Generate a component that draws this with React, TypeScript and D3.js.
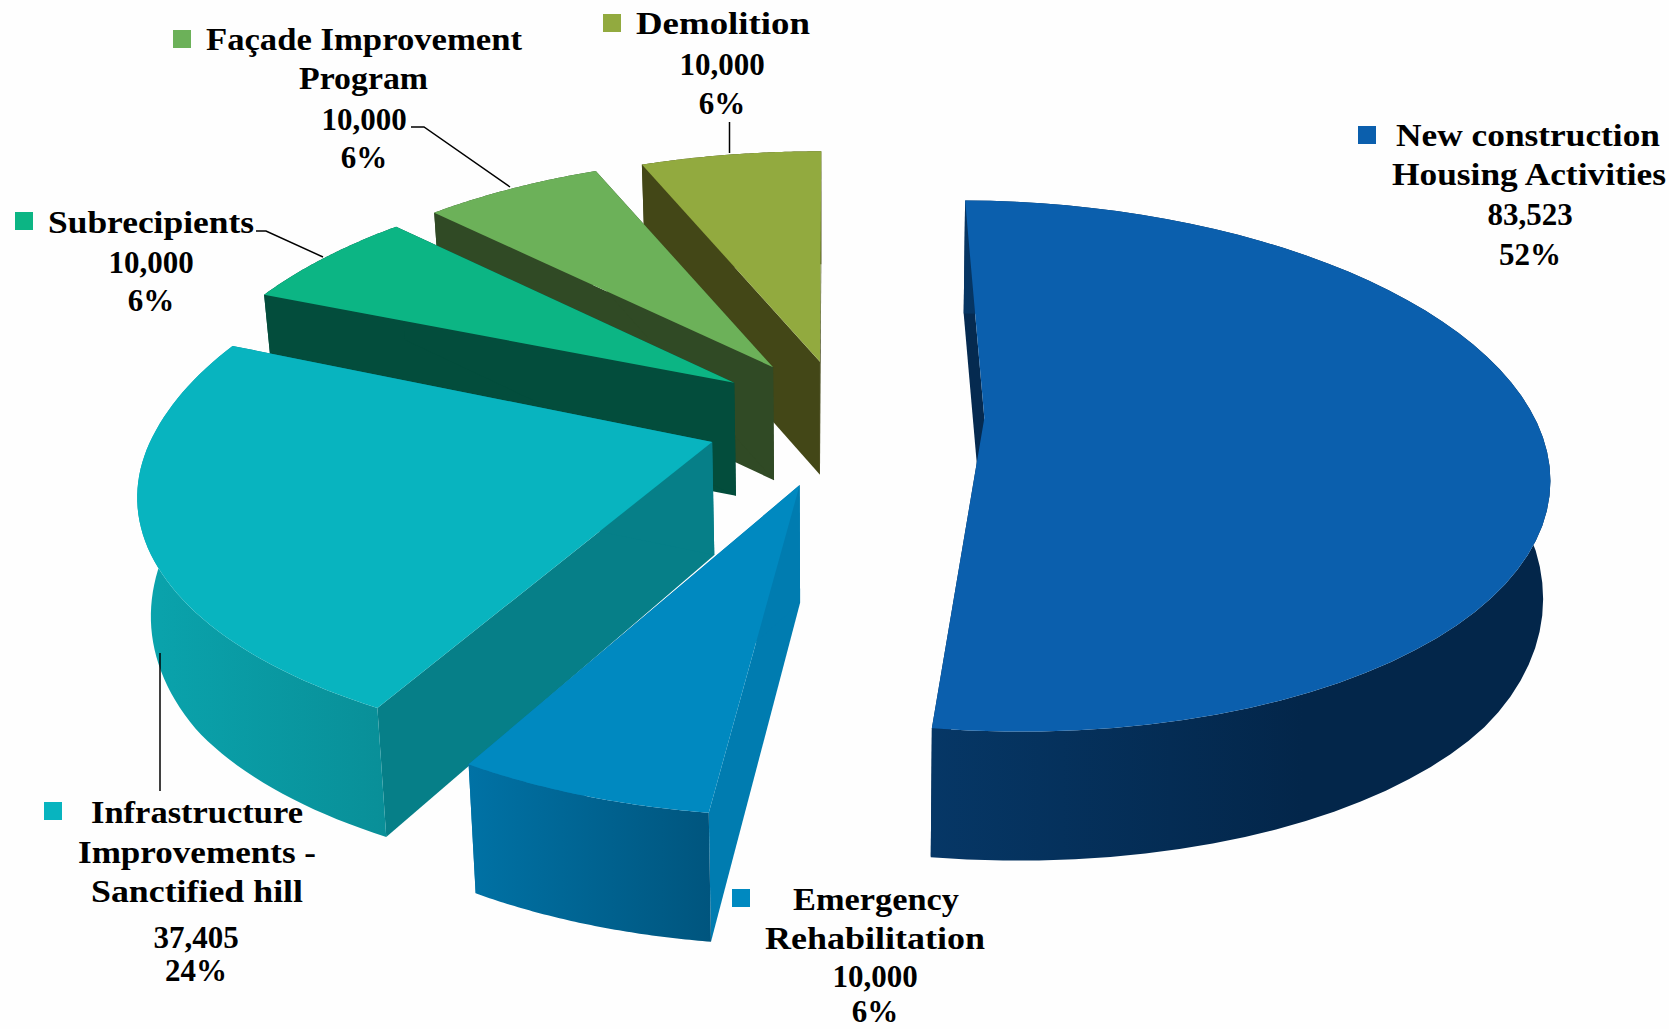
import React, { useEffect, useRef } from 'react';
import * as d3 from 'd3';

const categories = ['New construction Housing Activities', 'Emergency Rehabilitation', 'Infrastructure Improvements - Sanctified hill', 'Subrecipients', 'Façade Improvement Program', 'Demolition'];
const values = [83523, 10000, 37405, 10000, 10000, 10000];
const valueLabels = ['83,523', '10,000', '37,405', '10,000', '10,000', '10,000'];
const percentLabels = ['52%', '6%', '24%', '6%', '6%', '6%'];

const topColors = ['#0b5fad', '#0089c0', '#08b4bf', '#0cb584', '#6cb159', '#92aa3f'];
const faceColors = ['#052a50', '#007cb0', '#067f88', '#034d3c', '#304a25', '#434717'];
const wallLeft = ['#063766', '#0072a5', '#0aa4ad', '#034d3c', '#304a25', '#434717'];
const wallRight = ['#03264a', '#00557e', '#098f98', '#034d3c', '#304a25', '#434717'];
const wallStop = ['60%', '100%', '100%', '100%', '100%', '100%'];

// text lines of each label: [text, x of left edge, baseline, width]
const labelLines: [string, number, number, number][][] = [
    [['New construction', 1396, 146, 264], ['Housing Activities', 1392, 185, 274]],
    [['Emergency', 793, 910, 166], ['Rehabilitation', 765, 949, 220]],
    [['Infrastructure', 91, 823, 212], ['Improvements -', 78, 863, 238], ['Sanctified hill', 91, 902, 212]],
    [['Subrecipients', 48, 233, 206]],
    [['Façade Improvement', 206, 50, 316], ['Program', 299, 89, 129]],
    [['Demolition', 636, 34, 174]],
];
// [center x, value baseline, percent baseline]
const numberPos = [[1530, 225, 265], [875, 987, 1022], [196, 948, 981], [151, 273, 311], [364, 130, 168], [722, 75, 114]];
const swatchPos = [[1358, 126], [732, 889], [44, 802], [15, 212], [173, 30], [603, 14]];
const leaders = [
    [[160, 653], [160, 791]],
    [[256, 231], [266, 231], [323, 257]],
    [[411, 127], [424, 127], [510, 187]],
    [[729.5, 122], [729.5, 153]],
];

// camera looking down on the pie
const camera = { cx: 820, horizon: -1000, fx: 3050, fy: 7813, dist: 5.505, shiftX: 0.0495 };
const explode = 0.254;
const firstAngle = (-1 * Math.PI) / 180;
// small per slice corrections, the source chart is not a perfect projection
const sliceTurn = [1.8, 1.5, 0, 0, 0, 1.2];
const sliceRadiusX = [0.99, 0.96, 1, 1.014, 1.016, 1.04];
const sliceRadiusFront = [0.99, 0.96, 0.96, 1.03, 1.045, 1.055];
const sliceRadiusBack = [0.99, 0.96, 1.04, 1.03, 1.045, 1.055];
const sliceNudge = [[-4, -6], [-1.5, 1], [0, 2], [0, 0], [0, 1], [-2, 4]];

const App: React.FC = () => {
    const ref = useRef<SVGSVGElement>(null);

    useEffect(() => {
        if (!ref.current) return;
        const svg = d3.select(ref.current);
        svg.selectAll('*').remove();

        const project = (x: number, y: number, i: number): [number, number] => {
            const w = camera.dist + y;
            return [
                camera.cx + (camera.fx * (x + camera.shiftX)) / w + sliceNudge[i][0],
                camera.horizon + camera.fy / w + sliceNudge[i][1],
            ];
        };
        // the underside of the same world point
        const drop = (x: number, y: number, i: number): [number, number] => {
            const [sx, sy] = project(x, y, i);
            const w = camera.dist + y;
            const depth = 113 + Math.min(16, 30 * Math.max(0, 5.42 - w));
            const squeeze = sx > camera.cx ? 0.99 : 0.98;
            return [camera.cx + squeeze * (sx - camera.cx), sy + depth];
        };

        const arcs = d3.pie<number>().sort(null).startAngle(firstAngle).endAngle(firstAngle + 2 * Math.PI)(values);
        const line = d3.line();
        const defs = svg.append('defs');

        const slices = arcs.map((a, i) => {
            const turn = (sliceTurn[i] * Math.PI) / 180;
            const mid = (a.startAngle + a.endAngle) / 2 + 1.8 * Math.PI / 180;
            const ox = explode * Math.sin(mid);
            const oy = explode * Math.cos(mid);
            const steps = d3.range(0, 61).map(k => a.startAngle + turn + ((a.endAngle - a.startAngle) * k) / 60);
            const rim = steps.map(t => {
                const c = Math.cos(t);
                return [ox + sliceRadiusX[i] * Math.sin(t), oy + (c > 0 ? sliceRadiusBack[i] : sliceRadiusFront[i]) * c];
            });
            return { i, ox, oy, rim };
        });

        // paint from the back of the pie to the front
        [5, 4, 3, 2, 1, 0].forEach(i => {
            const { ox, oy, rim } = slices[i];
            const g = svg.append('g');
            const grad = defs.append('linearGradient').attr('id', `wall${i}`);
            grad.append('stop').attr('offset', '0%').attr('stop-color', wallLeft[i]);
            grad.append('stop').attr('offset', wallStop[i]).attr('stop-color', wallRight[i]);

            const topRim = rim.map(p => project(p[0], p[1], i));
            const botRim = rim.map(p => drop(p[0], p[1], i));
            const a0 = project(ox, oy, i);
            const a1 = drop(ox, oy, i);
            const n = rim.length - 1;

            g.append('path').attr('fill', faceColors[i]).attr('d', line([a0, topRim[0], botRim[0], a1])! + 'Z');
            g.append('path').attr('fill', faceColors[i]).attr('d', line([a0, topRim[n], botRim[n], a1])! + 'Z');
            g.append('path').attr('fill', `url(#wall${i})`).attr('d', line([...topRim, ...botRim.slice().reverse()])! + 'Z');
            g.append('path').attr('fill', topColors[i]).attr('d', line([a0, ...topRim])! + 'Z');
        });

        svg.append('g').selectAll('path').data(leaders).enter().append('path')
            .attr('d', d => line(d as [number, number][]))
            .attr('fill', 'none')
            .attr('stroke', '#000')
            .attr('stroke-width', 1.5);

        const labels = svg.append('g')
            .style('font-family', '"Liberation Serif", serif')
            .style('font-weight', 'bold')
            .style('font-size', '31px')
            .attr('fill', '#000');

        categories.forEach((_, i) => {
            labels.append('rect')
                .attr('x', swatchPos[i][0]).attr('y', swatchPos[i][1])
                .attr('width', 18).attr('height', 18)
                .attr('fill', topColors[i]);
            labelLines[i].forEach(l => {
                labels.append('text')
                    .attr('x', l[1]).attr('y', l[2])
                    .attr('textLength', l[3]).attr('lengthAdjust', 'spacingAndGlyphs')
                    .text(l[0]);
            });
            labels.append('text')
                .attr('x', numberPos[i][0]).attr('y', numberPos[i][1])
                .attr('text-anchor', 'middle')
                .text(valueLabels[i]);
            labels.append('text')
                .attr('x', numberPos[i][0]).attr('y', numberPos[i][2])
                .attr('text-anchor', 'middle')
                .text(percentLabels[i]);
        });
    }, []);

    return <svg ref={ref} width={1669} height={1029} style={{ position: 'absolute', left: 0, top: 0, background: '#fefefe' }} />;
};

export default App;
